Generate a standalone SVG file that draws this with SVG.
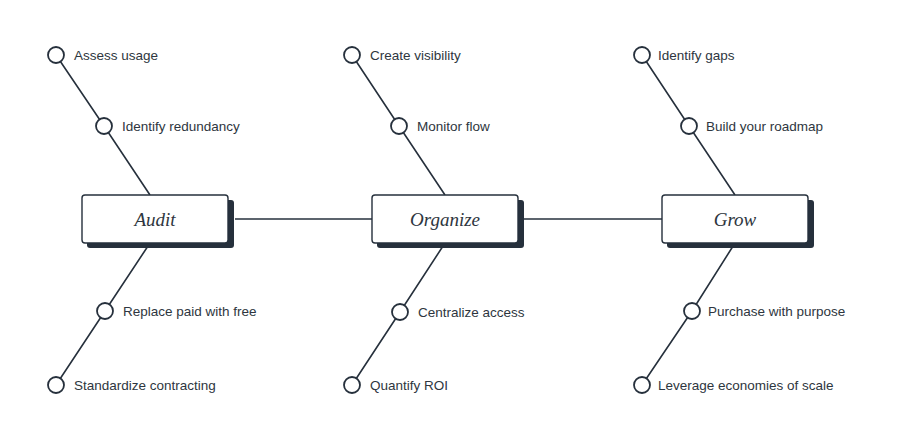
<svg xmlns="http://www.w3.org/2000/svg" width="900" height="447" viewBox="0 0 900 447">
<style>
.ln{stroke:#26303c;stroke-width:1.6;fill:none}
.dot{fill:#fff;stroke:#26303c;stroke-width:1.8}
.lbl{font-family:"Liberation Sans",Arial,sans-serif;font-size:13.5px;fill:#2e3640}
.box{fill:#fff;stroke:#26303c;stroke-width:1.4}
.shadow{fill:#26303c}
.title{font-family:"Liberation Serif","Times New Roman",serif;font-style:italic;font-size:19px;fill:#2e3640;text-anchor:middle}
</style>
<rect width="900" height="447" fill="#fff"/>
<g id="connectors">
<line class="ln" x1="235" y1="219" x2="372" y2="219"/>
<line class="ln" x1="523" y1="219" x2="662" y2="219"/>
<polyline class="ln" points="56,55 104,126 150,195"/>
<polyline class="ln" points="150,243 105,311 56,385"/>
<polyline class="ln" points="352,55 399,126 445,195"/>
<polyline class="ln" points="445,243 400,312 352,385"/>
<polyline class="ln" points="642,55 689,126 735,195"/>
<polyline class="ln" points="735,243 692,311 642,385"/>
</g>
<g id="audit">
<rect class="shadow" x="87" y="200" width="147" height="48" rx="3"/>
<rect class="box" x="82" y="195" width="146" height="48" rx="3"/>
<text class="title" x="155" y="226">Audit</text>
</g>
<g id="organize">
<rect class="shadow" x="377" y="200" width="147" height="48" rx="3"/>
<rect class="box" x="372" y="195" width="146" height="48" rx="3"/>
<text class="title" x="445" y="226">Organize</text>
</g>
<g id="grow">
<rect class="shadow" x="667" y="200" width="147" height="48" rx="3"/>
<rect class="box" x="662" y="195" width="146" height="48" rx="3"/>
<text class="title" x="735" y="226">Grow</text>
</g>
<g id="assess-usage"><circle class="dot" cx="56" cy="55" r="8"/><text class="lbl" x="74" y="60">Assess usage</text></g>
<g id="identify-redundancy"><circle class="dot" cx="104" cy="126" r="8"/><text class="lbl" x="122" y="131">Identify redundancy</text></g>
<g id="replace-paid"><circle class="dot" cx="105" cy="311" r="8"/><text class="lbl" x="123" y="316">Replace paid with free</text></g>
<g id="standardize"><circle class="dot" cx="56" cy="385" r="8"/><text class="lbl" x="74" y="390">Standardize contracting</text></g>
<g id="create-visibility"><circle class="dot" cx="352" cy="55" r="8"/><text class="lbl" x="370" y="60">Create visibility</text></g>
<g id="monitor-flow"><circle class="dot" cx="399" cy="126" r="8"/><text class="lbl" x="417" y="131">Monitor flow</text></g>
<g id="centralize-access"><circle class="dot" cx="400" cy="312" r="8"/><text class="lbl" x="418" y="317">Centralize access</text></g>
<g id="quantify-roi"><circle class="dot" cx="352" cy="385" r="8"/><text class="lbl" x="370" y="390">Quantify ROI</text></g>
<g id="identify-gaps"><circle class="dot" cx="642" cy="55" r="8"/><text class="lbl" x="658" y="60">Identify gaps</text></g>
<g id="build-roadmap"><circle class="dot" cx="689" cy="126" r="8"/><text class="lbl" x="706" y="131">Build your roadmap</text></g>
<g id="purchase-purpose"><circle class="dot" cx="692" cy="311" r="8"/><text class="lbl" x="708" y="316">Purchase with purpose</text></g>
<g id="leverage"><circle class="dot" cx="642" cy="385" r="8"/><text class="lbl" x="658" y="390">Leverage economies of scale</text></g>
</svg>
